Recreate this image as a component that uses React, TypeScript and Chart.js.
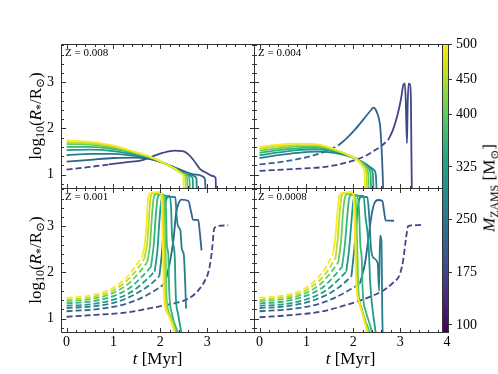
import React, { useEffect, useRef } from 'react';
import { Chart, registerables } from 'chart.js';

Chart.register(...registerables);

// ---------------- data ----------------
const MASSES = [175, 220, 265, 315, 360, 405, 455, 500];
const CB_MIN = 90;
const CB_MAX = 500;
const CB_TICKS = [100, 175, 250, 325, 400, 450, 500];
const X_MIN = -0.12;
const X_MAX = 4.0;
const Y_MIN = 0.71;
const Y_MAX = 3.83;
const X_TICKS_LEFT = [0, 1, 2, 3];
const X_TICKS_RIGHT = [0, 1, 2, 3, 4];
const Y_TICKS = [1, 2, 3];
const PANEL_LABELS = ['Z = 0.008', 'Z = 0.004', 'Z = 0.001', 'Z = 0.0008'];

type Pts = number[][];

// Z = 0.008 (index order follows MASSES)
const Z008_DASHED: Pts[] = [
  [[0, 1.11], [0.45, 1.16], [0.9, 1.22]],
  [], [], [], [], [], [], [],
];
const Z008_SOLID: Pts[] = [
  [[0.9, 1.22], [1.3, 1.27], [1.6, 1.31], [1.85, 1.4], [2.05, 1.47], [2.3, 1.52], [2.48, 1.51], [2.6, 1.44], [2.72, 1.3], [2.85, 1.12], [3.0, 1.03], [3.12, 0.97], [3.18, 0.93], [3.19, 0.6]],
  [[0, 1.28], [0.5, 1.32], [1.0, 1.36], [1.5, 1.37], [1.8, 1.33], [2.1, 1.24], [2.4, 1.12], [2.75, 1.0], [2.95, 0.92], [2.97, 0.6]],
  [[0, 1.42], [0.5, 1.45], [1.0, 1.45], [1.5, 1.4], [1.8, 1.35], [2.1, 1.24], [2.35, 1.12], [2.6, 1.0], [2.77, 0.93], [2.78, 0.6]],
  [[0, 1.53], [0.5, 1.54], [1.0, 1.51], [1.5, 1.43], [1.8, 1.36], [2.1, 1.24], [2.35, 1.11], [2.6, 0.99], [2.69, 0.93], [2.7, 0.6]],
  [[0, 1.6], [0.5, 1.6], [1.0, 1.55], [1.5, 1.45], [1.8, 1.37], [2.1, 1.24], [2.35, 1.1], [2.55, 1.0], [2.62, 0.94], [2.63, 0.6]],
  [[0, 1.66], [0.5, 1.65], [1.0, 1.58], [1.5, 1.46], [1.8, 1.37], [2.1, 1.24], [2.35, 1.1], [2.52, 1.0], [2.57, 0.95], [2.58, 0.6]],
  [[0, 1.7], [0.5, 1.68], [1.0, 1.61], [1.5, 1.47], [1.8, 1.38], [2.1, 1.24], [2.35, 1.1], [2.48, 1.01], [2.53, 0.96], [2.54, 0.6]],
  [[0, 1.74], [0.5, 1.71], [1.0, 1.63], [1.5, 1.48], [1.8, 1.38], [2.1, 1.24], [2.35, 1.1], [2.45, 1.02], [2.49, 0.96], [2.5, 0.6]],
];

// Z = 0.004
const Z004_DASHED: Pts[] = [
  [[0, 1.08], [0.7, 1.12], [1.33, 1.16], [1.7, 1.22], [2.04, 1.32], [2.25, 1.4], [2.46, 1.53], [2.6, 1.62], [2.75, 1.76]],
  [[0, 1.22], [0.5, 1.28], [0.97, 1.37], [1.35, 1.48], [1.68, 1.63]],
  [], [], [], [], [], [],
];
const Z004_SOLID: Pts[] = [
  [[2.75, 1.76], [2.85, 1.98], [2.95, 2.32], [3.02, 2.65], [3.07, 2.95], [3.1, 2.97], [3.12, 2.6], [3.145, 1.68], [3.16, 2.5], [3.18, 2.97], [3.21, 2.96], [3.23, 2.6], [3.24, 1.5], [3.25, 0.6]],
  [[1.68, 1.63], [1.85, 1.78], [2.04, 1.98], [2.25, 2.24], [2.38, 2.4], [2.43, 2.45], [2.5, 2.36], [2.57, 2.07], [2.59, 1.81], [2.62, 1.2], [2.64, 0.6]],
  [[0, 1.36], [0.4, 1.42], [0.8, 1.47], [1.2, 1.5], [1.6, 1.47], [1.9, 1.4], [2.2, 1.27], [2.42, 1.12], [2.48, 1.0], [2.5, 0.6]],
  [[0, 1.42], [0.4, 1.48], [0.8, 1.53], [1.2, 1.55], [1.6, 1.5], [1.9, 1.41], [2.18, 1.28], [2.36, 1.13], [2.42, 1.0], [2.43, 0.6]],
  [[0, 1.47], [0.4, 1.53], [0.8, 1.57], [1.2, 1.59], [1.6, 1.52], [1.9, 1.42], [2.16, 1.29], [2.32, 1.14], [2.37, 1.0], [2.38, 0.6]],
  [[0, 1.52], [0.4, 1.57], [0.8, 1.61], [1.2, 1.62], [1.6, 1.53], [1.9, 1.42], [2.14, 1.29], [2.28, 1.15], [2.32, 1.0], [2.33, 0.6]],
  [[0, 1.56], [0.4, 1.61], [0.8, 1.64], [1.2, 1.64], [1.6, 1.54], [1.9, 1.42], [2.12, 1.3], [2.24, 1.16], [2.28, 1.02], [2.29, 0.6]],
  [[0, 1.6], [0.4, 1.65], [0.8, 1.67], [1.2, 1.66], [1.6, 1.55], [1.9, 1.42], [2.1, 1.3], [2.2, 1.17], [2.24, 1.02], [2.25, 0.6]],
];

// Z = 0.001
const Z001_DASHED: Pts[] = [
  [[0, 1.04], [0.6, 1.08], [1.25, 1.13], [1.96, 1.26], [2.3, 1.33], [2.53, 1.4], [2.7, 1.5], [2.85, 1.66], [2.95, 1.82], [3.03, 2.02], [3.08, 2.3], [3.11, 2.55], [3.15, 2.95], [3.24, 3.01], [3.45, 3.02]],
  [[0, 1.16], [0.6, 1.2], [1.2, 1.3], [1.6, 1.45], [1.9, 1.62], [2.1, 1.76]],
  [[0, 1.23], [0.6, 1.27], [1.1, 1.37], [1.5, 1.55], [1.8, 1.75], [1.98, 1.92]],
  [[0, 1.28], [0.5, 1.31], [1.0, 1.41], [1.4, 1.59], [1.7, 1.84], [1.88, 2.02]],
  [[0, 1.33], [0.5, 1.37], [0.95, 1.47], [1.35, 1.67], [1.62, 1.92], [1.8, 2.12]],
  [[0, 1.38], [0.5, 1.42], [0.9, 1.52], [1.3, 1.74], [1.55, 2.0], [1.72, 2.22]],
  [[0, 1.41], [0.5, 1.46], [0.9, 1.57], [1.25, 1.79], [1.5, 2.06], [1.66, 2.3]],
  [[0, 1.45], [0.5, 1.5], [0.9, 1.62], [1.25, 1.86], [1.46, 2.12], [1.62, 2.36]],
];
const Z001_SOLID: Pts[] = [
  [],
  [[2.1, 1.76], [2.2, 2.2], [2.28, 2.7], [2.34, 3.3], [2.4, 3.52], [2.45, 3.58], [2.6, 3.55], [2.66, 3.3], [2.7, 3.14], [2.81, 3.14], [2.84, 2.9], [2.88, 2.48]],
  [[1.98, 1.92], [2.04, 2.5], [2.08, 3.1], [2.12, 3.55], [2.17, 3.64], [2.32, 3.63], [2.35, 3.2], [2.38, 3.0], [2.43, 2.9], [2.46, 2.5], [2.5, 2.4], [2.53, 1.8], [2.55, 1.22]],
  [[1.88, 2.02], [1.94, 2.5], [1.98, 3.1], [2.02, 3.55], [2.07, 3.66], [2.2, 3.66], [2.23, 3.4], [2.25, 2.8], [2.28, 2.6], [2.31, 2.3], [2.33, 1.5], [2.38, 1.1], [2.44, 0.75], [2.47, 0.6]],
  [[1.8, 2.12], [1.86, 2.6], [1.9, 3.2], [1.94, 3.6], [1.98, 3.68], [2.08, 3.68], [2.12, 3.4], [2.14, 2.6], [2.17, 2.4], [2.19, 1.6], [2.25, 1.1], [2.38, 0.68], [2.4, 0.6]],
  [[1.72, 2.22], [1.78, 2.6], [1.82, 3.2], [1.86, 3.62], [1.91, 3.7], [2.02, 3.7], [2.08, 3.6], [2.11, 2.6], [2.13, 1.5], [2.22, 1.05], [2.35, 0.68], [2.37, 0.6]],
  [[1.66, 2.3], [1.72, 2.65], [1.76, 3.2], [1.79, 3.6], [1.84, 3.72], [1.99, 3.73], [2.05, 3.66], [2.08, 2.7], [2.11, 1.45], [2.2, 1.05], [2.33, 0.68], [2.35, 0.6]],
  [[1.62, 2.36], [1.67, 2.62], [1.71, 3.12], [1.74, 3.6], [1.79, 3.72], [1.96, 3.74], [2.02, 3.69], [2.05, 2.74], [2.08, 1.45], [2.17, 1.08], [2.31, 0.68], [2.33, 0.6]],
];

// Z = 0.0008
const Z0008_DASHED: Pts[] = [
  [[0, 1.03], [0.6, 1.07], [1.3, 1.15], [1.93, 1.32], [2.3, 1.45], [2.64, 1.61], [2.85, 1.78], [3.0, 1.98], [3.07, 2.3], [3.12, 2.7], [3.17, 3.0], [3.25, 3.02], [3.45, 3.03]],
  [[0, 1.16], [0.6, 1.2], [1.2, 1.3], [1.6, 1.45], [1.95, 1.64], [2.14, 1.76]],
  [[0, 1.23], [0.6, 1.27], [1.1, 1.38], [1.5, 1.55], [1.78, 1.75], [1.96, 1.92]],
  [[0, 1.28], [0.5, 1.31], [1.0, 1.42], [1.4, 1.6], [1.68, 1.84], [1.85, 2.02]],
  [[0, 1.33], [0.5, 1.37], [0.95, 1.48], [1.35, 1.68], [1.6, 1.93], [1.76, 2.12]],
  [[0, 1.38], [0.5, 1.42], [0.9, 1.52], [1.3, 1.75], [1.52, 2.0], [1.68, 2.22]],
  [[0, 1.41], [0.5, 1.46], [0.9, 1.57], [1.25, 1.8], [1.47, 2.06], [1.62, 2.32]],
  [[0, 1.45], [0.5, 1.5], [0.9, 1.62], [1.2, 1.84], [1.42, 2.12], [1.57, 2.42]],
];
const Z0008_SOLID: Pts[] = [
  [],
  [[2.14, 1.76], [2.25, 2.2], [2.33, 2.8], [2.4, 3.3], [2.45, 3.5], [2.53, 3.57], [2.62, 3.55], [2.66, 3.3], [2.69, 3.13], [2.87, 3.12]],
  [[1.96, 1.92], [2.02, 2.5], [2.07, 3.1], [2.12, 3.55], [2.17, 3.64], [2.3, 3.63], [2.34, 3.2], [2.38, 2.5], [2.45, 2.3], [2.52, 2.2], [2.55, 1.6], [2.57, 2.8], [2.6, 2.7], [2.62, 1.0], [2.63, 0.6]],
  [[1.85, 2.02], [1.91, 2.5], [1.96, 3.1], [2.0, 3.55], [2.05, 3.66], [2.22, 3.66], [2.26, 3.2], [2.3, 2.9], [2.33, 2.5], [2.36, 1.8], [2.4, 1.3], [2.45, 0.9], [2.48, 0.68], [2.49, 0.6]],
  [[1.76, 2.12], [1.82, 2.6], [1.87, 3.2], [1.91, 3.6], [1.96, 3.68], [2.08, 3.68], [2.12, 3.4], [2.15, 2.6], [2.18, 2.3], [2.2, 1.6], [2.27, 1.15], [2.4, 0.68], [2.41, 0.6]],
  [[1.68, 2.22], [1.74, 2.7], [1.78, 3.3], [1.82, 3.62], [1.87, 3.7], [2.0, 3.7], [2.05, 3.6], [2.08, 2.7], [2.11, 1.6], [2.17, 1.25], [2.26, 0.95], [2.35, 0.68], [2.36, 0.6]],
  [[1.62, 2.32], [1.67, 2.75], [1.71, 3.3], [1.75, 3.65], [1.8, 3.72], [1.97, 3.73], [2.02, 3.66], [2.05, 2.8], [2.08, 1.6], [2.14, 1.3], [2.22, 1.0], [2.31, 0.68], [2.32, 0.6]],
  [[1.57, 2.42], [1.62, 2.8], [1.66, 3.3], [1.7, 3.65], [1.75, 3.72], [1.94, 3.74], [2.0, 3.7], [2.03, 3.0], [2.06, 1.8], [2.1, 1.45], [2.2, 1.1], [2.27, 0.8], [2.3, 0.6]],
];

// ---------------- styling / layout ----------------
const W = 498;
const H = 374;
const SERIF = '"Liberation Serif", "DejaVu Serif", serif';
const FRAME_COLOR = '#333333';
const MAJOR_LEN = 4.5;
const MINOR_LEN = 2.5;
const X_AXIS_H = 30;

const VIRIDIS = [
  '#440154', '#471365', '#482475', '#463480', '#414487', '#3b528b', '#355f8d',
  '#2f6c8e', '#2a788e', '#25848e', '#21918c', '#1e9c89', '#22a884', '#2fb47c',
  '#44bf70', '#5ec962', '#7ad151', '#9bd93c', '#bddf26', '#dfe318', '#fde725',
];

function hexToRgb(h: string) {
  return [parseInt(h.slice(1, 3), 16), parseInt(h.slice(3, 5), 16), parseInt(h.slice(5, 7), 16)];
}

function viridis(t: number) {
  const c = Math.max(0, Math.min(1, t)) * (VIRIDIS.length - 1);
  const i = Math.min(VIRIDIS.length - 2, Math.floor(c));
  const f = c - i;
  const a = hexToRgb(VIRIDIS[i]);
  const b = hexToRgb(VIRIDIS[i + 1]);
  const m = a.map((v, k) => Math.round(v + (b[k] - v) * f));
  return `rgb(${m[0]},${m[1]},${m[2]})`;
}

const PANELS = [
  { label: PANEL_LABELS[0], dashed: Z008_DASHED, solid: Z008_SOLID, left: 61, right: 254, top: 44, bottom: 188, showX: false, showY: true, xTicks: X_TICKS_LEFT },
  { label: PANEL_LABELS[1], dashed: Z004_DASHED, solid: Z004_SOLID, left: 254, right: 447, top: 44, bottom: 188, showX: false, showY: false, xTicks: X_TICKS_RIGHT },
  { label: PANEL_LABELS[2], dashed: Z001_DASHED, solid: Z001_SOLID, left: 61, right: 254, top: 188, bottom: 332, showX: true, showY: true, xTicks: X_TICKS_LEFT },
  { label: PANEL_LABELS[3], dashed: Z0008_DASHED, solid: Z0008_SOLID, left: 254, right: 447, top: 188, bottom: 332, showX: true, showY: false, xTicks: X_TICKS_RIGHT },
];

const CB_BOX = { left: 442, right: 448, top: 44, bottom: 332 };

const panelDecor = {
  id: 'panelDecor',
  afterDatasetsDraw(chart: any, _args: any, opts: any) {
    const { ctx, chartArea: a } = chart;
    const xs = chart.scales.x;
    const ys = chart.scales.y;
    ctx.save();
    ctx.strokeStyle = FRAME_COLOR;
    ctx.lineWidth = 1;
    ctx.beginPath();
    const L = a.left + 0.5, R = a.right + 0.5, T = a.top + 0.5, B = a.bottom + 0.5;
    ctx.rect(L, T, R - L, B - T);
    for (let k = 0; k <= 20; k++) {
      const len = k % 5 === 0 ? MAJOR_LEN : MINOR_LEN;
      const px = Math.round(xs.getPixelForValue(k * 0.2)) + 0.5;
      ctx.moveTo(px, B); ctx.lineTo(px, B - len);
      ctx.moveTo(px, T); ctx.lineTo(px, T + len);
    }
    for (let k = 4; k <= 19; k++) {
      const len = k % 5 === 0 ? MAJOR_LEN : MINOR_LEN;
      const py = Math.round(ys.getPixelForValue(k * 0.2)) + 0.5;
      ctx.moveTo(L, py); ctx.lineTo(L + len, py);
      ctx.moveTo(R, py); ctx.lineTo(R - len, py);
    }
    ctx.stroke();
    ctx.fillStyle = '#000';
    ctx.font = `11px ${SERIF}`;
    ctx.textBaseline = 'middle';
    ctx.textAlign = 'left';
    ctx.fillText(opts.text, a.left + 4, a.top + 9.5);
    ctx.restore();
  },
};

const cbFrame = {
  id: 'cbFrame',
  afterDatasetsDraw(chart: any) {
    const { ctx, chartArea: a } = chart;
    ctx.save();
    ctx.strokeStyle = FRAME_COLOR;
    ctx.lineWidth = 1;
    ctx.strokeRect(a.left + 0.5, a.top + 0.5, a.right - a.left, a.bottom - a.top);
    ctx.restore();
  },
};

function makePanelConfig(p: typeof PANELS[number]): any {
  const datasets: any[] = [];
  MASSES.forEach((m, i) => {
    const color = viridis((m - CB_MIN) / (CB_MAX - CB_MIN));
    const order = MASSES.length - 1 - i;
    const common = {
      borderColor: color,
      borderWidth: 1.8,
      pointRadius: 0,
      fill: false,
      order,
      clip: 0,
      cubicInterpolationMode: 'monotone',
      borderJoinStyle: 'round',
    };
    if (p.dashed[i].length) {
      datasets.push({ ...common, data: p.dashed[i].map(([x, y]) => ({ x, y })), borderDash: [6, 3] });
    }
    if (p.solid[i].length) {
      datasets.push({ ...common, data: p.solid[i].map(([x, y]) => ({ x, y })) });
    }
  });
  const font = { family: SERIF, size: 14 };
  return {
    type: 'line',
    data: { datasets },
    options: {
      responsive: false,
      animation: false,
      devicePixelRatio: 1,
      events: [],
      layout: { padding: { left: 0, right: W - p.right, top: p.top, bottom: H - p.bottom - X_AXIS_H } },
      plugins: { legend: { display: false }, tooltip: { enabled: false }, panelDecor: { text: p.label } },
      scales: {
        x: {
          type: 'linear', min: X_MIN, max: X_MAX, position: 'bottom',
          grid: { display: false, drawTicks: false }, border: { display: false },
          ticks: { display: p.showX, font, color: '#000', padding: 2, maxRotation: 0, autoSkip: false },
          afterBuildTicks: (s: any) => { s.ticks = p.xTicks.map((v) => ({ value: v })); },
          afterFit: (s: any) => { s.height = X_AXIS_H; },
        },
        y: {
          type: 'linear', min: Y_MIN, max: Y_MAX, position: 'left',
          grid: { display: false, drawTicks: false }, border: { display: false },
          ticks: { display: p.showY, font, color: '#000', padding: 7, autoSkip: false },
          afterBuildTicks: (s: any) => { s.ticks = Y_TICKS.map((v) => ({ value: v })); },
          afterFit: (s: any) => { s.width = p.left; },
        },
      },
    },
    plugins: [panelDecor],
  };
}

function makeColorbarConfig(): any {
  return {
    type: 'bar',
    data: {
      labels: [''],
      datasets: [{
        data: [[CB_MIN, CB_MAX]],
        borderWidth: 0,
        barPercentage: 1,
        categoryPercentage: 1,
        backgroundColor: (c: any) => {
          const a = c.chart.chartArea;
          if (!a) return '#21918c';
          const g = c.chart.ctx.createLinearGradient(0, a.bottom, 0, a.top);
          VIRIDIS.forEach((col, k) => g.addColorStop(k / (VIRIDIS.length - 1), col));
          return g;
        },
      }],
    },
    options: {
      responsive: false,
      animation: false,
      devicePixelRatio: 1,
      events: [],
      layout: { padding: { left: CB_BOX.left, right: 0, top: CB_BOX.top, bottom: H - CB_BOX.bottom } },
      plugins: { legend: { display: false }, tooltip: { enabled: false } },
      scales: {
        x: { display: false },
        y: {
          type: 'linear', position: 'right', min: CB_MIN, max: CB_MAX,
          grid: { display: true, drawOnChartArea: false, drawTicks: true, tickLength: 4, color: FRAME_COLOR, lineWidth: 1 },
          border: { display: false },
          ticks: { font: { family: SERIF, size: 14 }, color: '#000', padding: 4, autoSkip: false },
          afterBuildTicks: (s: any) => { s.ticks = CB_TICKS.map((v) => ({ value: v })); },
          afterFit: (s: any) => { s.width = W - CB_BOX.right; },
        },
      },
    },
    plugins: [cbFrame],
  };
}

const subStyle: React.CSSProperties = { fontSize: '0.7em', verticalAlign: '-0.3em', lineHeight: 0 };
const titleBase: React.CSSProperties = {
  position: 'absolute', whiteSpace: 'nowrap', fontFamily: SERIF, fontSize: 17, lineHeight: 1, color: '#000',
};

function YTitle({ cy }: { cy: number }) {
  return (
    <div style={{ ...titleBase, left: 35, top: cy, transform: 'translate(-50%,-50%) rotate(-90deg)' }}>
      log<span style={subStyle}>10</span>(<i>R</i><span style={subStyle}>*</span>/R<span style={subStyle}>⊙</span>)
    </div>
  );
}

function XTitle({ cx }: { cx: number }) {
  return (
    <div style={{ ...titleBase, left: cx, top: 358, transform: 'translate(-50%,-50%)' }}>
      <i>t</i> [Myr]
    </div>
  );
}

export default function App() {
  const r0 = useRef<HTMLCanvasElement>(null);
  const r1 = useRef<HTMLCanvasElement>(null);
  const r2 = useRef<HTMLCanvasElement>(null);
  const r3 = useRef<HTMLCanvasElement>(null);
  const r4 = useRef<HTMLCanvasElement>(null);

  useEffect(() => {
    const refs = [r0, r1, r2, r3];
    const charts: Chart[] = PANELS.map((p, i) => new Chart(refs[i].current as HTMLCanvasElement, makePanelConfig(p)));
    charts.push(new Chart(r4.current as HTMLCanvasElement, makeColorbarConfig()));
    return () => charts.forEach((c) => c.destroy());
  }, []);

  const cv: React.CSSProperties = { position: 'absolute', left: 0, top: 0, width: W, height: H };
  return (
    <div style={{ position: 'absolute', left: 0, top: 0, width: W, height: H, background: '#fff', overflow: 'hidden' }}>
      <canvas ref={r0} width={W} height={H} style={cv} />
      <canvas ref={r1} width={W} height={H} style={cv} />
      <canvas ref={r2} width={W} height={H} style={cv} />
      <canvas ref={r3} width={W} height={H} style={cv} />
      <canvas ref={r4} width={W} height={H} style={cv} />
      <YTitle cy={116} />
      <YTitle cy={260} />
      <XTitle cx={157.5} />
      <XTitle cx={350.5} />
      <div style={{ ...titleBase, left: 489, top: 188, transform: 'translate(-50%,-50%) rotate(-90deg)' }}>
        <i>M</i><span style={subStyle}>ZAMS</span> [M<span style={subStyle}>⊙</span>]
      </div>
    </div>
  );
}
